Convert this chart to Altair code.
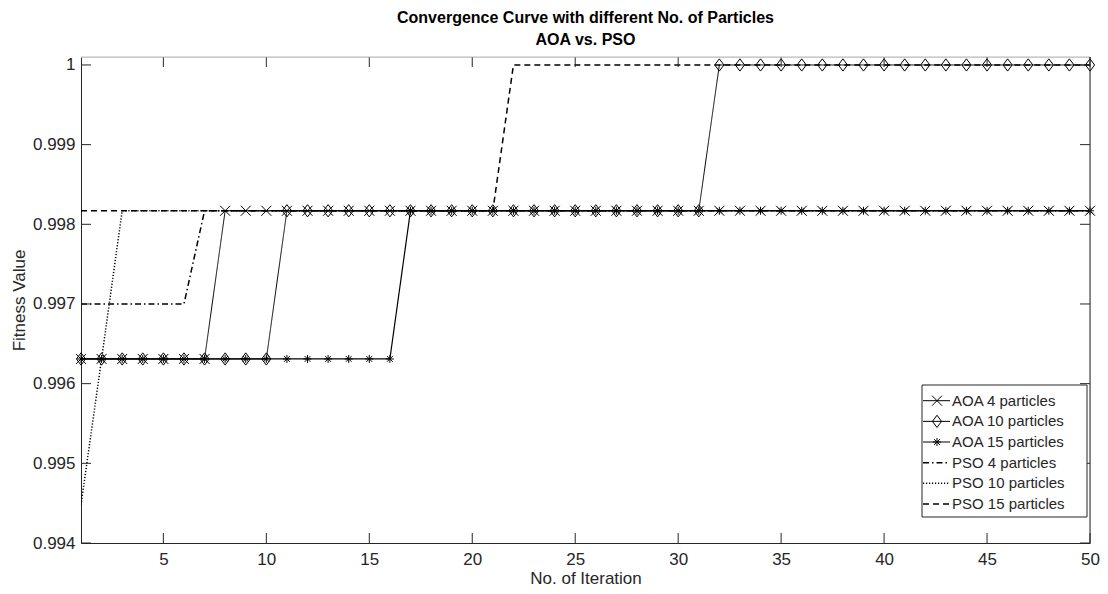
import altair as alt
import pandas as pd

# ---------------- data ----------------
iterations = [1, 2, 3, 4, 5, 6, 7, 8, 9, 10,
              11, 12, 13, 14, 15, 16, 17, 18, 19, 20,
              21, 22, 23, 24, 25, 26, 27, 28, 29, 30,
              31, 32, 33, 34, 35, 36, 37, 38, 39, 40,
              41, 42, 43, 44, 45, 46, 47, 48, 49, 50]

series_names = ["AOA 4 particles", "AOA 10 particles", "AOA 15 particles",
                "PSO 4 particles", "PSO 10 particles", "PSO 15 particles"]

aoa_4 = [0.99631, 0.99631, 0.99631, 0.99631, 0.99631, 0.99631, 0.99631, 0.99817, 0.99817, 0.99817,
         0.99817, 0.99817, 0.99817, 0.99817, 0.99817, 0.99817, 0.99817, 0.99817, 0.99817, 0.99817,
         0.99817, 0.99817, 0.99817, 0.99817, 0.99817, 0.99817, 0.99817, 0.99817, 0.99817, 0.99817,
         0.99817, 0.99817, 0.99817, 0.99817, 0.99817, 0.99817, 0.99817, 0.99817, 0.99817, 0.99817,
         0.99817, 0.99817, 0.99817, 0.99817, 0.99817, 0.99817, 0.99817, 0.99817, 0.99817, 0.99817]

aoa_10 = [0.99631, 0.99631, 0.99631, 0.99631, 0.99631, 0.99631, 0.99631, 0.99631, 0.99631, 0.99631,
          0.99817, 0.99817, 0.99817, 0.99817, 0.99817, 0.99817, 0.99817, 0.99817, 0.99817, 0.99817,
          0.99817, 0.99817, 0.99817, 0.99817, 0.99817, 0.99817, 0.99817, 0.99817, 0.99817, 0.99817,
          0.99817, 1.0, 1.0, 1.0, 1.0, 1.0, 1.0, 1.0, 1.0, 1.0,
          1.0, 1.0, 1.0, 1.0, 1.0, 1.0, 1.0, 1.0, 1.0, 1.0]

aoa_15 = [0.99631, 0.99631, 0.99631, 0.99631, 0.99631, 0.99631, 0.99631, 0.99631, 0.99631, 0.99631,
          0.99631, 0.99631, 0.99631, 0.99631, 0.99631, 0.99631, 0.99817, 0.99817, 0.99817, 0.99817,
          0.99817, 0.99817, 0.99817, 0.99817, 0.99817, 0.99817, 0.99817, 0.99817, 0.99817, 0.99817,
          0.99817, 0.99817, 0.99817, 0.99817, 0.99817, 0.99817, 0.99817, 0.99817, 0.99817, 0.99817,
          0.99817, 0.99817, 0.99817, 0.99817, 0.99817, 0.99817, 0.99817, 0.99817, 0.99817, 0.99817]

pso_4 = [0.99700, 0.99700, 0.99700, 0.99700, 0.99700, 0.99700, 0.99817, 0.99817, 0.99817, 0.99817,
         0.99817, 0.99817, 0.99817, 0.99817, 0.99817, 0.99817, 0.99817, 0.99817, 0.99817, 0.99817,
         0.99817, 0.99817, 0.99817, 0.99817, 0.99817, 0.99817, 0.99817, 0.99817, 0.99817, 0.99817,
         0.99817, 0.99817, 0.99817, 0.99817, 0.99817, 0.99817, 0.99817, 0.99817, 0.99817, 0.99817,
         0.99817, 0.99817, 0.99817, 0.99817, 0.99817, 0.99817, 0.99817, 0.99817, 0.99817, 0.99817]

pso_10 = [0.99448, 0.99631, 0.99817, 0.99817, 0.99817, 0.99817, 0.99817, 0.99817, 0.99817, 0.99817,
          0.99817, 0.99817, 0.99817, 0.99817, 0.99817, 0.99817, 0.99817, 0.99817, 0.99817, 0.99817,
          0.99817, 0.99817, 0.99817, 0.99817, 0.99817, 0.99817, 0.99817, 0.99817, 0.99817, 0.99817,
          0.99817, 0.99817, 0.99817, 0.99817, 0.99817, 0.99817, 0.99817, 0.99817, 0.99817, 0.99817,
          0.99817, 0.99817, 0.99817, 0.99817, 0.99817, 0.99817, 0.99817, 0.99817, 0.99817, 0.99817]

pso_15 = [0.99817, 0.99817, 0.99817, 0.99817, 0.99817, 0.99817, 0.99817, 0.99817, 0.99817, 0.99817,
          0.99817, 0.99817, 0.99817, 0.99817, 0.99817, 0.99817, 0.99817, 0.99817, 0.99817, 0.99817,
          0.99817, 1.0, 1.0, 1.0, 1.0, 1.0, 1.0, 1.0, 1.0, 1.0,
          1.0, 1.0, 1.0, 1.0, 1.0, 1.0, 1.0, 1.0, 1.0, 1.0,
          1.0, 1.0, 1.0, 1.0, 1.0, 1.0, 1.0, 1.0, 1.0, 1.0]

series_values = [aoa_4, aoa_10, aoa_15, pso_4, pso_10, pso_15]

x_ticks = [5, 10, 15, 20, 25, 30, 35, 40, 45, 50]
y_ticks = [0.994, 0.995, 0.996, 0.997, 0.998, 0.999, 1.0]

title_lines = ["Convergence Curve with different No. of Particles", "AOA vs. PSO"]
x_title = "No. of Iteration"
y_title = "Fitness Value"

# ---------------- styles ----------------
FONT = "Liberation Sans"
INK = "#262626"
W, H = 1009, 486

X_MARK = "M-1,-1L1,1M-1,1L1,-1"
DIAMOND = "M0,-1L0.75,0L0,1L-0.75,0Z"
STAR = "M-1,0L1,0M0,-1L0,1M-0.72,-0.72L0.72,0.72M-0.72,0.72L0.72,-0.72"

styles = [
    dict(dash=[1, 0], width=1.0, shape=X_MARK, size=100),
    dict(dash=[1, 0], width=1.0, shape=DIAMOND, size=150),
    dict(dash=[1, 0], width=1.2, shape=STAR, size=64),
    dict(dash=[6, 3, 1.5, 3], width=1.5, shape=None, size=0),
    dict(dash=[1.2, 1.8], width=1.5, shape=None, size=0),
    dict(dash=[6, 4], width=1.5, shape=None, size=0),
]

xs = alt.Scale(domain=[1, 50], nice=False, zero=False)
ys = alt.Scale(domain=[0.994, 1.0001], nice=False, zero=False)

x_axis = alt.Axis(values=x_ticks, title=x_title, ticks=False, tickSize=0, grid=False,
                  labelPadding=8, titlePadding=3, domainColor=INK, labelFontSize=17,
                  titleFontSize=17, titleFontWeight="normal", labelFont=FONT, titleFont=FONT,
                  labelColor=INK, titleColor=INK, labelFlush=False)
y_axis = alt.Axis(values=y_ticks, title=y_title, ticks=False, tickSize=0, grid=False,
                  format=".3~f", labelPadding=6, titlePadding=4, domainColor=INK,
                  labelFontSize=17, titleFontSize=17, titleFontWeight="normal",
                  labelFont=FONT, titleFont=FONT, labelColor=INK, titleColor=INK,
                  labelFlush=False)

X = alt.X("iteration:Q", scale=xs, axis=x_axis)
Y = alt.Y("value:Q", scale=ys, axis=y_axis)

main_layers = []
for name, vals, st in zip(series_names, series_values, styles):
    df = pd.DataFrame({"iteration": iterations, "value": vals, "series": name})
    base = alt.Chart(df)
    main_layers.append(
        base.mark_line(color="black", strokeWidth=st["width"], strokeDash=st["dash"],
                       clip=True).encode(x=X, y=Y)
    )
    if st["shape"]:
        main_layers.append(
            base.mark_point(shape=st["shape"], size=st["size"], filled=False,
                            stroke="black", strokeWidth=1, opacity=1).encode(x=X, y=Y)
        )

# inward tick marks (MATLAB style) on all four sides
xt_df = pd.DataFrame({"iteration": x_ticks})
yt_df = pd.DataFrame({"value": y_ticks})
TL = 10
main_layers += [
    alt.Chart(xt_df).mark_rule(color=INK, strokeWidth=1).encode(
        x=X, y=alt.value(H), y2=alt.value(H - TL)),
    alt.Chart(xt_df).mark_rule(color=INK, strokeWidth=1).encode(
        x=X, y=alt.value(0), y2=alt.value(TL)),
    alt.Chart(yt_df).mark_rule(color=INK, strokeWidth=1).encode(
        y=Y, x=alt.value(0), x2=alt.value(TL)),
    alt.Chart(yt_df).mark_rule(color=INK, strokeWidth=1).encode(
        y=Y, x=alt.value(W), x2=alt.value(W - TL)),
]
# top and right box lines
one = pd.DataFrame({"k": [0]})
main_layers += [
    alt.Chart(one).mark_rule(color="#b8b8b8", strokeWidth=1).encode(
        x=alt.value(0), x2=alt.value(W), y=alt.value(0)),
    alt.Chart(one).mark_rule(color=INK, strokeWidth=1).encode(
        x=alt.value(W), y=alt.value(0), y2=alt.value(H)),
]

main = alt.layer(*main_layers)

# ---------------- legend (inside plot, bottom-right) ----------------
leg_df = pd.DataFrame({"name": series_names, "row": list(range(len(series_names)))})
ls = alt.Scale(domain=[0, 5], range=[343.7, 447], nice=False, zero=False)
LY = alt.Y("row:Q", scale=ls, axis=None)

legend_layers = [
    alt.Chart(one).mark_rect(fill="white", stroke=INK, strokeWidth=1).encode(
        x=alt.value(841), x2=alt.value(1006), y=alt.value(328), y2=alt.value(460))
]
for i, (name, st) in enumerate(zip(series_names, styles)):
    sub = alt.Chart(leg_df).transform_filter(alt.datum.row == i)
    legend_layers.append(
        sub.mark_rule(color="black", strokeWidth=st["width"], strokeDash=st["dash"]).encode(
            x=alt.value(842), x2=alt.value(869), y=LY)
    )
    if st["shape"]:
        legend_layers.append(
            sub.mark_point(shape=st["shape"], size=st["size"], filled=False,
                           stroke="black", strokeWidth=1, opacity=1).encode(
                x=alt.value(856), y=LY)
        )
legend_layers.append(
    alt.Chart(leg_df).mark_text(align="left", baseline="middle", font=FONT, fontSize=15,
                                color=INK, dx=0).encode(
        x=alt.value(871), y=LY, text="name:N")
)
legend = alt.layer(*legend_layers)

chart = alt.layer(main, legend).resolve_scale(y="independent").properties(
    width=W, height=H,
    title=alt.Title(title_lines, font=FONT, fontSize=16, fontWeight="bold", color="black",
                    anchor="middle", offset=8, lineHeight=22),
    padding={"left": 73, "top": 49, "right": 10, "bottom": 43},
    autosize=alt.AutoSizeParams(type="none"),
).configure_view(stroke=None).configure(background="white")

chart.save("out.html", embed_options={"renderer": "svg", "actions": False})
